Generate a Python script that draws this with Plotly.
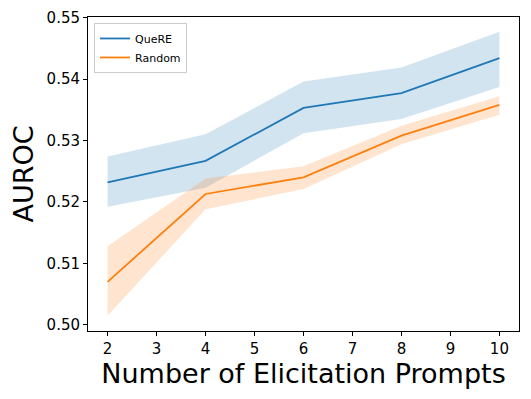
import plotly.graph_objects as go

# number of elicitation prompts
prompts = [2, 4, 6, 8, 10]

# QueRE mean AUROC and band
quere_mean = [0.5232, 0.5267, 0.5353, 0.5377, 0.5434]
quere_low = [0.5192, 0.5223, 0.5312, 0.5335, 0.5387]
quere_high = [0.5274, 0.5310, 0.5396, 0.5419, 0.5477]

# Random mean AUROC and band
random_mean = [0.5070, 0.5213, 0.5240, 0.5308, 0.5358]
random_low = [0.5015, 0.5188, 0.5221, 0.5294, 0.5342]
random_high = [0.5128, 0.5238, 0.5258, 0.5324, 0.5372]

x_ticks = [2, 3, 4, 5, 6, 7, 8, 9, 10]
y_ticks = [0.50, 0.51, 0.52, 0.53, 0.54, 0.55]

series = [
    ("QueRE", quere_mean, quere_low, quere_high, "#1f77b4", "rgba(31,119,180,0.2)"),
    ("Random", random_mean, random_low, random_high, "#ff7f0e", "rgba(255,127,14,0.2)"),
]

fig = go.Figure()

for name, mean, low, high, color, fill in series:
    # shaded band
    fig.add_trace(go.Scatter(
        x=prompts + prompts[::-1],
        y=high + low[::-1],
        fill="toself",
        fillcolor=fill,
        line=dict(width=0),
        mode="lines",
        hoverinfo="skip",
        showlegend=False,
    ))
    fig.add_trace(go.Scatter(
        x=prompts,
        y=mean,
        mode="lines",
        name=name,
        line=dict(color=color, width=1.8),
    ))

axis_common = dict(
    showline=True,
    linecolor="black",
    linewidth=1,
    mirror=True,
    ticks="outside",
    ticklen=4,
    tickcolor="black",
    showgrid=False,
    zeroline=False,
    automargin=False,
    tickfont=dict(size=15, color="black"),
)

# page body adds an 8px margin, so the figure is a bit smaller than the window
fig.update_layout(
    width=523,
    height=391,
    margin=dict(l=80, r=12, t=9, b=68),
    plot_bgcolor="white",
    paper_bgcolor="white",
    font=dict(family="DejaVu Sans", color="black"),
    xaxis=dict(
        range=[1.6, 10.4],
        tickvals=x_ticks,
        title=dict(text="Number of Elicitation Prompts", font=dict(size=27), standoff=3),
        **axis_common,
    ),
    yaxis=dict(
        range=[0.4990, 0.5501],
        tickvals=y_ticks,
        tickformat=".2f",
        title=dict(text="AUROC", font=dict(size=27), standoff=8),
        **axis_common,
    ),
    legend=dict(
        x=0.014,
        y=0.981,
        xanchor="left",
        yanchor="top",
        bgcolor="white",
        bordercolor="#cccccc",
        borderwidth=1,
        font=dict(size=11),
        itemwidth=30,
        tracegroupgap=0,
    ),
)

fig.write_html("out.html")
